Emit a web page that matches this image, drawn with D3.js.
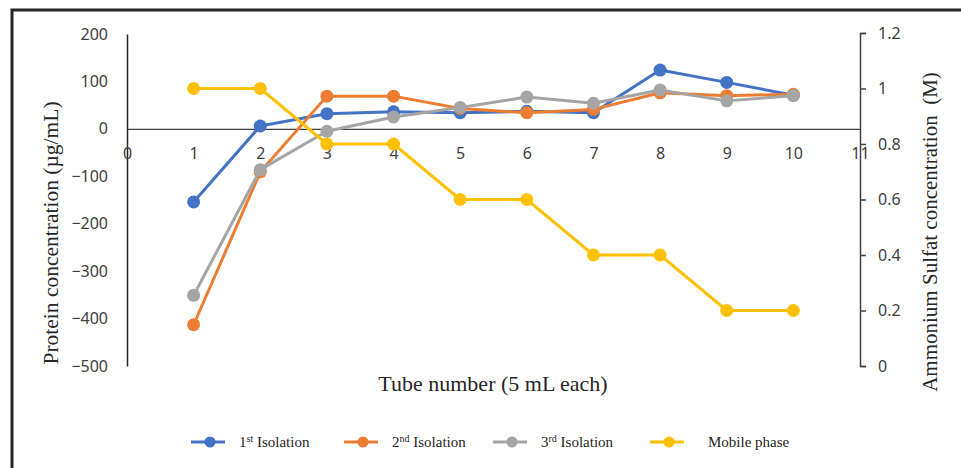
<!DOCTYPE html>
<html>
<head>
<meta charset="utf-8">
<script src="https://cdn.jsdelivr.net/npm/d3@7"></script>
<style>
  body { margin: 0; background: #fff; }
  svg { display: block; }
</style>
</head>
<body>
<div id="chart-area"></div>
<script>
// Data
var tubes = [1, 2, 3, 4, 5, 6, 7, 8, 9, 10];
var isolation1 = [-154, 6, 32, 36, 34, 37, 34, 124, 98, 71];
var isolation2 = [-413, -91, 69, 69, 43, 34, 41, 76, 70, 73];
var isolation3 = [-351, -86, -5, 25, 45, 67, 54, 82, 59, 70];
var mobilePhase = [1, 1, 0.8, 0.8, 0.6, 0.6, 0.4, 0.4, 0.2, 0.2];
var xTicks = d3.range(0, 12);
var leftTicks = [200, 100, 0, -100, -200, -300, -400, -500];
var rightTicks = [0, 0.2, 0.4, 0.6, 0.8, 1, 1.2];

var series = [
    {name: "1", sup: "st", label: " Isolation", values: isolation1, color: "#4472C4", axis: "left"},
    {name: "2", sup: "nd", label: " Isolation", values: isolation2, color: "#ED7D31", axis: "left"},
    {name: "3", sup: "rd", label: " Isolation", values: isolation3, color: "#A5A5A5", axis: "left"},
    {name: "Mobile phase", sup: "", label: "", values: mobilePhase, color: "#FFC000", axis: "right"}
];

var W = 961, H = 468;
var svg = d3.select("#chart-area").append("svg")
    .attr("width", W)
    .attr("height", H);

// outer frame
svg.append("rect")
    .attr("x", 12).attr("y", 10)
    .attr("width", 980).attr("height", 500)
    .attr("fill", "none")
    .attr("stroke", "#262626")
    .attr("stroke-width", 3);

// Scales
var x = d3.scaleLinear().domain([0, 11]).range([127, 860]);
var yL = d3.scaleLinear().domain([-500, 200]).range([366, 34]);
var yR = d3.scaleLinear().domain([0, 1.2]).range([366, 33]);

var sans = "'Noto Sans', 'Open Sans', sans-serif";
var serif = "'Liberation Serif', 'Times New Roman', serif";

// Left axis (line only, no tick marks)
var leftAxis = svg.append("g")
    .attr("transform", "translate(127,0)")
    .call(d3.axisLeft(yL).tickValues(leftTicks).tickSize(0).tickPadding(19));
leftAxis.select(".domain").attr("stroke", "#262626").attr("stroke-width", 1.5);
leftAxis.selectAll("text")
    .attr("font-family", sans).attr("font-size", 16).attr("fill", "#404040");

// Right axis
var rightAxis = svg.append("g")
    .attr("transform", "translate(860,0)")
    .call(d3.axisRight(yR).tickValues(rightTicks).tickSize(6).tickSizeOuter(6).tickPadding(12)
        .tickFormat(d3.format("")));
rightAxis.select(".domain").attr("stroke", "#404040").attr("stroke-width", 1.5);
rightAxis.selectAll(".tick line").attr("stroke", "#404040").attr("stroke-width", 1.5);
rightAxis.selectAll("text")
    .attr("font-family", sans).attr("font-size", 16).attr("fill", "#404040");

// X axis at zero
var xAxis = svg.append("g")
    .attr("transform", "translate(0," + yL(0) + ")")
    .call(d3.axisBottom(x).tickValues(xTicks).tickSize(0).tickPadding(19));
xAxis.select(".domain").attr("stroke", "#404040").attr("stroke-width", 1.2);
xAxis.selectAll("text")
    .attr("font-family", sans).attr("font-size", 16).attr("fill", "#404040");

// Axis titles
svg.append("text")
    .attr("transform", "translate(58,233) rotate(-90)")
    .attr("text-anchor", "middle")
    .attr("font-family", serif).attr("font-size", 21.5).attr("fill", "#262626")
    .text("Protein concentration (µg/mL)");

svg.append("text")
    .attr("transform", "translate(937,232) rotate(-90)")
    .attr("text-anchor", "middle")
    .attr("font-family", serif).attr("font-size", 21).attr("fill", "#262626")
    .attr("xml:space", "preserve")
    .style("white-space", "pre")
    .text("Ammonium Sulfat concentration  (M)");

svg.append("text")
    .attr("x", 493).attr("y", 391)
    .attr("text-anchor", "middle")
    .attr("font-family", serif).attr("font-size", 22).attr("fill", "#262626")
    .text("Tube number (5 mL each)");

// Lines and markers
var line = d3.line();
series.forEach(function(s) {
    var y = s.axis === "left" ? yL : yR;
    var pts = tubes.map(function(t, i) { return [x(t), y(s.values[i])]; });
    svg.append("path")
        .attr("d", line(pts))
        .attr("fill", "none")
        .attr("stroke", s.color)
        .attr("stroke-width", 3)
        .attr("stroke-linejoin", "round");
    svg.append("g").selectAll("circle")
        .data(pts)
        .enter().append("circle")
        .attr("cx", function(d) { return d[0]; })
        .attr("cy", function(d) { return d[1]; })
        .attr("r", 6.5)
        .attr("fill", s.color);
});

// Legend
var legendX = [191, 344, 493, 650];
var legendY = 442;
series.forEach(function(s, i) {
    var g = svg.append("g").attr("transform", "translate(" + legendX[i] + "," + legendY + ")");
    g.append("line")
        .attr("x1", 0).attr("x2", 34)
        .attr("stroke", s.color).attr("stroke-width", 3);
    g.append("circle")
        .attr("cx", 19).attr("r", 5.5)
        .attr("fill", s.color);
    var t = g.append("text")
        .attr("x", i === 3 ? 58 : 48)
        .attr("y", 5)
        .attr("font-family", serif).attr("font-size", 15).attr("fill", "#262626");
    t.append("tspan").text(s.name);
    if (s.sup) {
        t.append("tspan").attr("font-size", 10).attr("dy", -5).text(s.sup);
        t.append("tspan").attr("dy", 5).text(s.label);
    }
});
</script>
</body>
</html>
